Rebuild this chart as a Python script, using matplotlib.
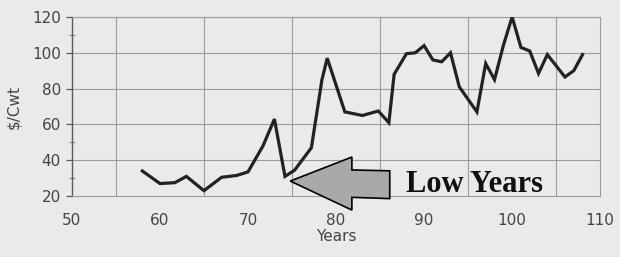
import matplotlib.pyplot as plt
from matplotlib.patches import Polygon

# price series (year, $/cwt)
years = [58, 60, 61.7, 63, 65, 67, 68.7, 70, 71.7, 73, 74.2, 75.3, 77.2, 78.4, 79,
         81, 83, 84.8, 86, 86.6, 88, 89, 90, 91, 92, 93, 94, 96, 97, 98,
         99, 100, 101, 102, 103, 104, 106, 107, 108]
price = [34, 27, 27.5, 31, 23, 30.5, 31.5, 33.5, 48, 63, 31, 34.5, 47, 85, 97,
         67, 65, 67.5, 61, 88, 99.5, 100, 104, 96, 95, 100, 81, 67, 94, 85,
         104, 120, 103, 101, 88.5, 99, 86.5, 90, 99]

xticks = [50, 60, 70, 80, 90, 100, 110]
yticks = [20, 40, 60, 80, 100, 120]
xgrid = [55, 65, 75, 85, 95, 105]

bg = '#eaeaea'
grid_c = '#9c9c9c'

fig = plt.figure(figsize=(6.2, 2.57), dpi=100, facecolor=bg)
ax = fig.add_axes([0.116, 0.237, 0.852, 0.697])
ax.set_facecolor(bg)

ax.set_xlim(50, 110)
ax.set_ylim(20, 120)
ax.set_xticks(xticks)
ax.set_yticks(yticks)
ax.set_yticks([30, 50, 110], minor=True)

for y in yticks[1:]:
    ax.axhline(y, color=grid_c, lw=0.8, zorder=1)
for x in xgrid:
    ax.axvline(x, color=grid_c, lw=0.8, zorder=1)

for s in ['top', 'right', 'bottom']:
    ax.spines[s].set_color(grid_c)
    ax.spines[s].set_linewidth(0.8)
ax.spines['left'].set_color('#5a5a5a')
ax.spines['left'].set_linewidth(1.0)

ax.tick_params(axis='x', length=0, pad=12, labelsize=11, labelcolor='#444444')
ax.tick_params(axis='y', which='major', length=4, width=0.9, color='#5a5a5a',
               pad=4, labelsize=11, labelcolor='#444444')
ax.tick_params(axis='y', which='minor', length=4, width=0.8, color='#808080',
               direction='inout')

ax.plot(years, price, color='#222222', lw=2.3, zorder=3, solid_joinstyle='miter')

ax.set_xlabel('Years', fontsize=11, color='#444444', labelpad=1)
ax.set_ylabel('$/Cwt', fontsize=11, color='#444444', labelpad=8)

# big grey arrow pointing at the low years
arrow = Polygon([(74.8, 28.4), (81.8, 41.8), (81.8, 34.6), (86.1, 34.1),
                 (86.1, 18.6), (81.8, 19.3), (81.8, 12.2)],
                closed=True, facecolor='#a9a9a9', edgecolor='black', lw=1.2,
                zorder=4, clip_on=False)
ax.add_patch(arrow)

ax.text(87.9, 26.5, 'Low Years', fontsize=22, fontweight='bold',
        family='Liberation Serif', color='#111111', va='center', ha='left', zorder=5)

fig.savefig('out.png', dpi=100, facecolor=bg)
